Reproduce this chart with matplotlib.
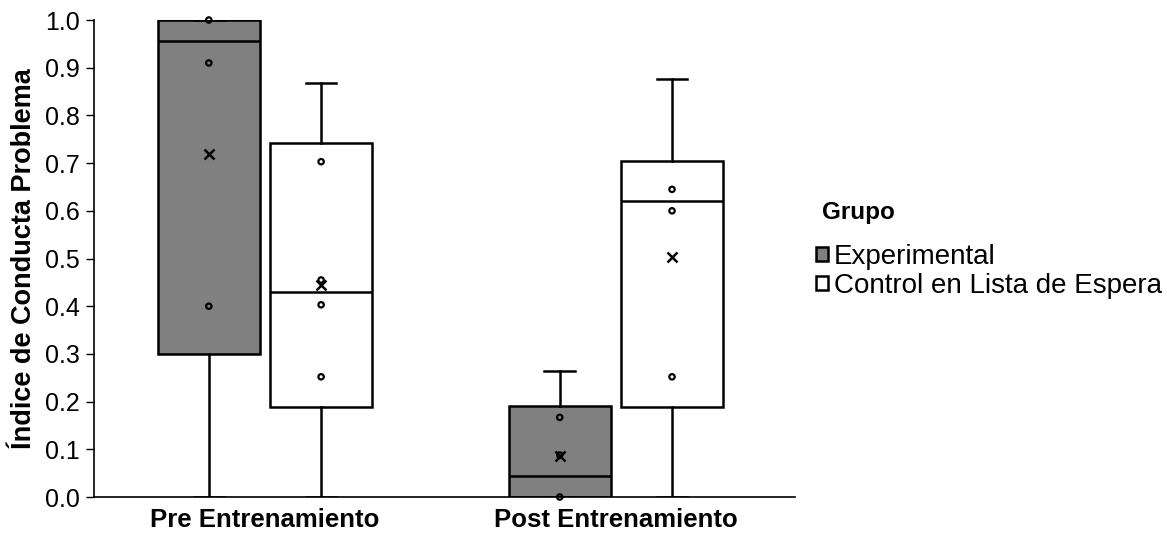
import matplotlib
matplotlib.use("Agg")
import matplotlib.pyplot as plt
from matplotlib.patches import Patch

plt.rcParams["font.family"] = ["Liberation Sans", "DejaVu Sans"]

# Data
phases = ["Pre Entrenamiento", "Post Entrenamiento"]
groups = ["Experimental", "Control en Lista de Espera"]
group_colors = ["#808080", "#ffffff"]

# Five-number summaries per phase, per group: (whislo, q1, median, q3, whishi)
exp_whislo = [0.0, 0.0]
exp_q1 = [0.30, 0.0]
exp_median = [0.955, 0.044]
exp_q3 = [1.0, 0.19]
exp_whishi = [1.0, 0.264]
exp_mean = [0.719, 0.085]

ctl_whislo = [0.0, 0.0]
ctl_q1 = [0.189, 0.189]
ctl_median = [0.43, 0.62]
ctl_q3 = [0.742, 0.704]
ctl_whishi = [0.868, 0.876]
ctl_mean = [0.445, 0.503]

# Individual observations shown as small circles
exp_points = [[1.0, 0.91, 0.40], [0.167, 0.088, 0.0]]
ctl_points = [[0.703, 0.455, 0.403, 0.252], [0.645, 0.60, 0.252]]

yticks = [0.0, 0.1, 0.2, 0.3, 0.4, 0.5, 0.6, 0.7, 0.8, 0.9, 1.0]

fig = plt.figure(figsize=(11.67, 5.35), dpi=100)
ax = fig.add_axes([0.0806, 0.071, 0.6005, 0.8916])

offset = 0.16
width = 0.29

def stats_list(wl, q1, med, q3, wh, mean):
    return [dict(whislo=wl[i], q1=q1[i], med=med[i], q3=q3[i], whishi=wh[i],
                 mean=mean[i], fliers=[]) for i in range(len(wl))]

series = [
    (stats_list(exp_whislo, exp_q1, exp_median, exp_q3, exp_whishi, exp_mean), exp_points, -offset, group_colors[0]),
    (stats_list(ctl_whislo, ctl_q1, ctl_median, ctl_q3, ctl_whishi, ctl_mean), ctl_points, offset, group_colors[1]),
]

lw = 1.8
for stats, pts, off, color in series:
    pos = [i + off for i in range(len(phases))]
    ax.bxp(stats, positions=pos, widths=width, patch_artist=True, showmeans=True,
           showfliers=False, capwidths=width * 0.3,
           boxprops=dict(facecolor=color, edgecolor="black", linewidth=lw),
           medianprops=dict(color="black", linewidth=lw),
           whiskerprops=dict(color="black", linewidth=lw),
           capprops=dict(color="black", linewidth=lw),
           meanprops=dict(marker="x", markeredgecolor="black", markersize=7.5,
                          markeredgewidth=1.8, linestyle="none"),
           zorder=2)
    for p, vals in zip(pos, pts):
        ax.scatter([p] * len(vals), vals, s=15, facecolors="none",
                   edgecolors="black", linewidths=1.6, zorder=4, clip_on=False)

ax.set_xlim(-0.487, 1.51)
ax.set_ylim(0, 1.0)
ax.set_xticks(range(len(phases)))
ax.set_xticklabels(phases, fontsize=18.5, fontweight="bold")
ax.tick_params(axis="x", length=0, pad=8)
ax.set_yticks(yticks)
ax.set_yticklabels([f"{v:.1f}" for v in yticks], fontsize=18)
ax.tick_params(axis="y", length=6, width=1, direction="out", pad=4)
ax.set_ylabel("Índice de Conducta Problema", fontsize=19.5, fontweight="bold", labelpad=6)

for side in ["top", "right"]:
    ax.spines[side].set_visible(False)
for side in ["left", "bottom"]:
    ax.spines[side].set_linewidth(1.2)

# Legend heading and entries
fig.text(822 / 1167, 1 - 212 / 535, "Grupo", fontsize=17.5, fontweight="bold",
         ha="left", va="center")
handles = [Patch(facecolor=c, edgecolor="black", linewidth=1.8) for c in group_colors]
leg = fig.legend(handles, groups, loc="upper left",
                 bbox_to_anchor=(816 / 1167, 1 - 244 / 535),
                 frameon=False, fontsize=20,
                 handlelength=0.42, handleheight=0.42, handletextpad=0.22,
                 labelspacing=0.1, borderaxespad=0, borderpad=0)

fig.savefig("out.png", dpi=100)
